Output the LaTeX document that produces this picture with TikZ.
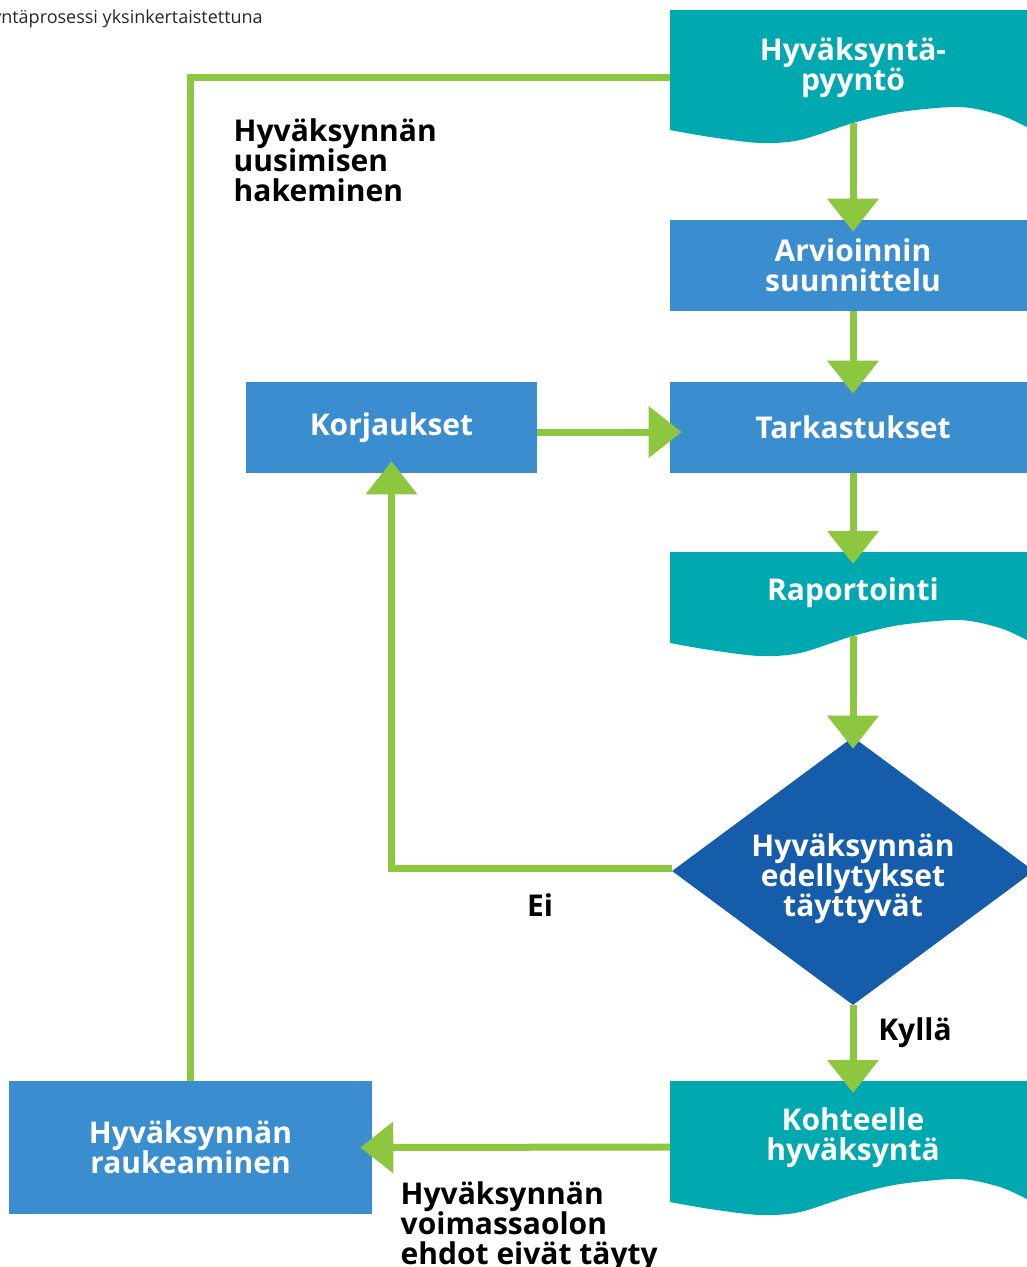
\documentclass[tikz,border=0pt]{standalone}
\usepackage{fontspec}
\setmainfont{Open Sans}
\usetikzlibrary{arrows.meta,shapes.geometric}
\definecolor{flowgreen}{RGB}{141,198,63}
\definecolor{docteal}{RGB}{0,168,176}
\definecolor{boxblue}{RGB}{58,141,206}
\definecolor{diablue}{RGB}{21,93,170}
\newcommand\flowdoc[2]{%
  \fill[docteal] (670,#1) -- (1040,#1) -- (1040,{#2+3}) -- plot[smooth] coordinates {(1036,{#2+1}) (1027,{#2-3}) (1000,{#2-15}) (960,{#2-23}) (900,{#2-18}) (853,{#2-7}) (800,{#2+10}) (760,{#2+13}) (710,{#2+7}) (670,#2)} -- cycle;}
\begin{document}
\begin{tikzpicture}[x=0.75pt,y=-0.75pt,
  bigtext/.style={font=\bfseries\fontsize{22.5}{22.5}\selectfont, align=center},
  whitetext/.style={bigtext, text=white},
  blackbox/.style={fill=boxblue, whitetext, inner sep=0pt, minimum width=274.5pt, minimum height=68.25pt},
  label/.style={bigtext, text=black},
  conn/.style={draw=flowgreen, line width=5.25pt, -{Triangle[width=37.5pt,length=24.75pt]}, shorten >=-9pt},
  plainconn/.style={draw=flowgreen, line width=5.25pt}]
\useasboundingbox (0,0) rectangle (1027,1267);
% document shapes
\flowdoc{10}{130}
\flowdoc{552}{643}
\flowdoc{1081}{1202}
\node[whitetext] (doc1) at (853,68) {Hyväksyntä-\\pyyntö};
\node[whitetext] (doc5) at (853,593) {Raportointi};
\node[whitetext] (doc7) at (853,1138) {Kohteelle\\hyväksyntä};
\coordinate (doc1b) at (853,123);
\coordinate (doc1w) at (670,77);
\coordinate (doc5n) at (853,552);
\coordinate (doc5b) at (853,636);
\coordinate (doc7n) at (853,1081);
\coordinate (doc7w) at (670,1147);
% boxes
\node[blackbox] (plan) at (853,265.5) {Arvioinnin\\suunnittelu};
\node[blackbox] (check) at (853,427.5) {Tarkastukset};
\node[blackbox, minimum width=218.25pt] (fix) at (391.5,427.5) {Korjaukset};
\node[blackbox, minimum width=272.25pt, minimum height=99.75pt] (expire) at (190.5,1147.5) {Hyväksynnän\\raukeaminen};
\node[diamond, fill=diablue, inner sep=0pt, aspect=1.35, minimum width=271.5pt, minimum height=201pt] (dia) at (853,871) {};
\node[whitetext] (diatext) at (853,879) {Hyväksynnän\\edellytykset\\täyttyvät};
% title
\node[anchor=east, font=\fontsize{13.5}{15}\selectfont, text=black!85, inner sep=0pt] (title) at (263,19) {Hyväksyntäprosessi yksinkertaistettuna};
% connectors
\draw[conn] (doc1b) -- (plan.north);
\draw[conn] (plan.south) -- (check.north);
\draw[conn] (check.south) -- (doc5n);
\draw[conn] (doc5b) -- (dia.north);
\draw[conn] (dia.south) -- (doc7n);
\draw[conn] ([yshift=-3.4pt]fix.east) -- ([yshift=-3.4pt]fix.east -| check.west);
\draw[conn] ([yshift=2pt]dia.west) -| (fix.south);
\draw[conn] (doc7w) -- (expire.east);
\draw[plainconn] (expire.north) |- (doc1w);
% labels
\node[label, anchor=west, align=left] (renew) at (229,160) {Hyväksynnän\\uusimisen\\hakeminen};
\node[label] (no) at (540,905) {Ei};
\node[label] (yes) at (915,1033) {Kyllä};
\node[label, anchor=west, align=left] (invalid) at (396,1227) {Hyväksynnän\\voimassaolon\\ehdot eivät täyty};
\end{tikzpicture}
\end{document}
